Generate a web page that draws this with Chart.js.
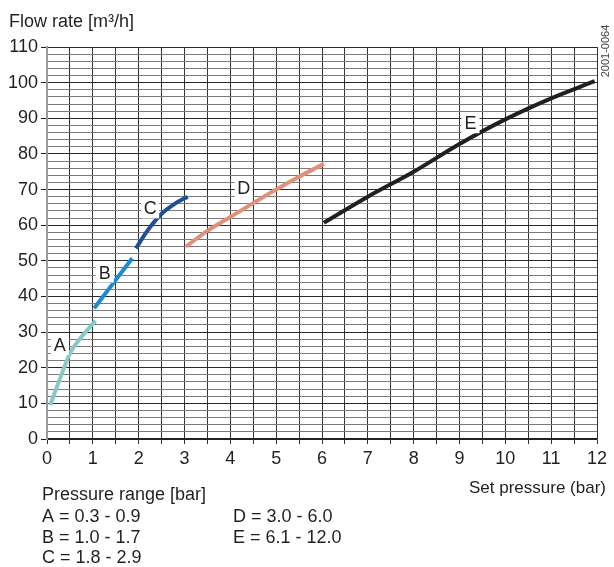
<!DOCTYPE html>
<html>
<head>
<meta charset="utf-8">
<script src="https://cdn.jsdelivr.net/npm/chart.js@4.4.0/dist/chart.umd.min.js"></script>
<style>
  html, body { margin: 0; padding: 0; background: #fff; }
  #wrap { position: relative; width: 614px; height: 567px; }
  canvas { display: block; }
</style>
</head>
<body>
<div id="wrap"><canvas id="c" width="614" height="567"></canvas></div>
<script>
// ---- data (pressure in bar, flow rate in m³/h) ----
const curveA = [[0.07, 9.5], [0.3, 17.5], [0.52, 24.5], [0.75, 28.6], [1.06, 33.2]];
const curveB = [[1.03, 36.7], [1.45, 43.8], [1.86, 50.7]];
const curveC = [[1.94, 53.5], [2.2, 58.6], [2.5, 63.2], [2.8, 66.1], [3.07, 68.0]];
const curveD = [[3.03, 54.0], [3.5, 58.4], [4.0, 62.3], [4.5, 66.2], [5.0, 70.0], [5.5, 73.6], [6.04, 77.2]];
const curveE = [[6.04, 60.7], [7.0, 68.0], [8.0, 75.0], [9.0, 82.8], [10.0, 89.7], [11.0, 95.6], [11.95, 100.4]];
const curveNames = ['A', 'B', 'C', 'D', 'E'];
const curveColors = ['#86c9c6', '#1b8bd2', '#1d4f97', '#e0917a', '#231f20'];
const labelPos = [[0.28, 26.4], [1.26, 46.7], [2.25, 64.7], [4.29, 70.5], [9.24, 88.6]];
const xTicks = [0, 1, 2, 3, 4, 5, 6, 7, 8, 9, 10, 11, 12];
const yTicks = [0, 10, 20, 30, 40, 50, 60, 70, 80, 90, 100, 110];
const legendLines = ['A = 0.3 - 0.9', 'B = 1.0 - 1.7', 'C = 1.8 - 2.9', 'D = 3.0 - 6.0', 'E = 6.1 - 12.0'];

const FONT = '"Liberation Sans", Arial, sans-serif';
const toPts = arr => arr.map(p => ({ x: p[0], y: p[1] }));
const curves = [curveA, curveB, curveC, curveD, curveE];

const textPlugin = {
  id: 'texts',
  afterDatasetsDraw(chart) {
    const ctx = chart.ctx;
    const xs = chart.scales.x, ys = chart.scales.y;
    ctx.save();
    ctx.font = '18px ' + FONT;
    ctx.textAlign = 'center';
    ctx.textBaseline = 'middle';
    labelPos.forEach((p, i) => {
      const px = xs.getPixelForValue(p[0]);
      const py = ys.getPixelForValue(p[1]);
      ctx.fillStyle = '#fff';
      ctx.fillRect(px - 9, py - 10, 18, 20);
      ctx.fillStyle = '#231f20';
      ctx.fillText(curveNames[i], px, py + 1);
    });
    ctx.restore();
  },
  afterDraw(chart) {
    const ctx = chart.ctx;
    ctx.save();
    ctx.fillStyle = '#231f20';
    ctx.textBaseline = 'alphabetic';
    ctx.textAlign = 'left';
    ctx.font = '18px ' + FONT;
    ctx.fillText('Flow rate [m³/h]', 9, 27);
    ctx.fillText('Pressure range [bar]', 42, 500);
    ctx.fillText(legendLines[0], 42, 522);
    ctx.fillText(legendLines[1], 42, 543);
    ctx.fillText(legendLines[2], 42, 563);
    ctx.fillText(legendLines[3], 233, 522);
    ctx.fillText(legendLines[4], 233, 543);
    ctx.textAlign = 'right';
    ctx.font = '17px ' + FONT;
    ctx.fillText('Set pressure (bar)', 606, 493);
    ctx.translate(606, 51);
    ctx.rotate(-Math.PI / 2);
    ctx.textAlign = 'center';
    ctx.textBaseline = 'middle';
    ctx.font = '11px ' + FONT;
    ctx.fillStyle = '#444';
    ctx.fillText('2001-0064', 0, 0);
    ctx.restore();
  }
};

new Chart(document.getElementById('c'), {
  type: 'scatter',
  data: {
    datasets: curves.map((c, i) => ({
      label: curveNames[i],
      data: toPts(c),
      showLine: true,
      borderColor: curveColors[i],
      backgroundColor: curveColors[i],
      borderWidth: 4,
      pointRadius: 0,
      cubicInterpolationMode: 'monotone',
      borderCapStyle: 'butt'
    }))
  },
  options: {
    responsive: false,
    animation: false,
    layout: { padding: { top: 47, right: 17, left: 0, bottom: 0 } },
    plugins: { legend: { display: false }, tooltip: { enabled: false } },
    scales: {
      x: {
        type: 'linear', min: 0, max: 12,
        afterFit: s => { s.height = 128; },
        afterBuildTicks: s => {
          const t = [];
          for (let v = 0; v <= 24; v++) t.push({ value: v / 2 });
          s.ticks = t;
        },
        ticks: {
          autoSkip: false, maxRotation: 0, padding: 4,
          color: '#231f20', font: { family: FONT, size: 18 },
          callback: v => xTicks.includes(v) ? String(v) : ''
        },
        grid: { color: '#333', lineWidth: 1, tickLength: 5, tickColor: '#333' },
        border: { color: '#231f20', width: 1.5 }
      },
      y: {
        type: 'linear', min: 0, max: 110,
        afterFit: s => { s.width = 47; },
        afterBuildTicks: s => {
          const t = [];
          for (let v = 0; v <= 110; v += 2) t.push({ value: v });
          s.ticks = t;
        },
        ticks: {
          autoSkip: false, padding: 3,
          color: '#231f20', font: { family: FONT, size: 18 },
          callback: v => yTicks.includes(v) ? String(v) : ''
        },
        grid: {
          color: c => (c.tick && c.tick.value % 10 === 0) ? '#2a2a2a' : '#7a7a7a',
          lineWidth: 1, tickLength: 6,
          tickColor: c => (c.tick && c.tick.value % 10 === 0) ? '#231f20' : 'rgba(0,0,0,0)'
        },
        border: { color: '#9a9a9a', width: 2 }
      }
    }
  },
  plugins: [textPlugin]
});
</script>
</body>
</html>
